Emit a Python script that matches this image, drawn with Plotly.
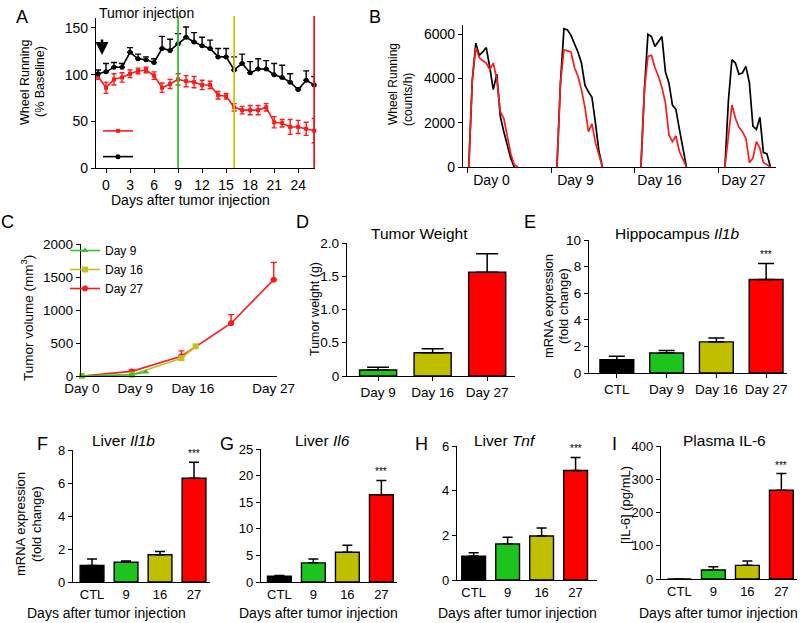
import plotly.graph_objects as go

W, H = 800, 623
FONT = "Liberation Sans, Arial, sans-serif"

# ---------------- Panel A : wheel running (% baseline) ----------------
a_days = list(range(-1, 27))
a_ctrl = [101, 103, 108, 108, 124, 117, 116, 113, 128, 126, 133, 140, 135, 131,
          128, 119, 119, 105, 112, 102, 106, 106, 100, 97, 92, 84, 94, 89]
a_ctrl_err = [4, 9, 5, 4, 5, 5, 3, 4, 13, 12, 11, 11, 10, 9,
              9, 9, 9, 14, 10, 12, 11, 9, 12, 13, 9, 2, 10, 9]
a_tumor = [98, 86, 95, 97, 101, 104, 105, 99, 86, 90, 95, 93, 92, 89,
           89, 78, 77, 65, 62, 62, 62, 65, 49, 48, 44, 44, 42, 40]
a_tumor_err = [3, 6, 6, 5, 4, 3, 3, 4, 5, 5, 6, 6, 6, 5,
               4, 4, 3, 4, 4, 5, 5, 4, 6, 4, 8, 7, 7, 13]
a_xticks = [0, 3, 6, 9, 12, 15, 18, 21, 24]
a_yticks = [0, 50, 100, 150]
a_sample_days = [9, 16, 26]
a_injection_day = -0.5

# ---------------- Panel B : hourly wheel running ----------------
b_labels = ["Day 0", "Day 9", "Day 16", "Day 27"]
b_ctrl = [
    [0, 3900, 5600, 5050, 5200, 5400, 4500, 3500, 4200, 2300, 1600, 1000, 400, 0],
    [0, 3800, 6250, 6200, 5950, 5600, 5200, 4700, 3700, 3400, 3150, 2000, 700, 0],
    [0, 3500, 6000, 5900, 5450, 5700, 5900, 4300, 3800, 2800, 2600, 1700, 900, 0],
    [0, 3000, 4850, 4700, 4200, 4250, 4550, 3800, 1850, 1700, 2250, 650, 600, 0],
]
b_tumor = [
    [0, 3900, 5400, 4950, 4800, 4700, 4400, 4700, 4000, 2500, 2200, 1400, 600, 100, 0],
    [0, 3800, 5300, 5250, 5200, 4500, 4100, 3500, 2700, 1600, 1950, 1100, 600, 0],
    [0, 3500, 5000, 5050, 4500, 4100, 3600, 2900, 1450, 1150, 1400, 700, 350, 0],
    [0, 1400, 2800, 2200, 1800, 1600, 1300, 200, 400, 1150, 850, 200, 100, 0],
]
b_yticks = [0, 2000, 4000, 6000]

# ---------------- Panel C : tumor volume ----------------
c_days_9 = [0, 7, 9]
c_vol_9 = [0, 20, 60]
c_days_16 = [0, 7, 14, 16]
c_vol_16 = [0, 20, 270, 450]
c_days_27 = [0, 7, 14, 21, 27]
c_vol_27 = [0, 70, 300, 800, 1460]
c_vol_27_err = [0, 20, 80, 130, 260]
c_tick_labels = ["Day 0", "Day 9", "Day 16", "Day 27"]
c_tick_pos = [0, 7.5, 15.6, 27]
c_yticks = [0, 500, 1000, 1500, 2000]

# ---------------- Panel D : tumor weight ----------------
d_cats = ["Day 9", "Day 16", "Day 27"]
d_vals = [0.09, 0.35, 1.56]
d_err = [0.04, 0.06, 0.28]
d_yticks = [0, 0.5, 1.0, 1.5, 2.0]
d_ytick_text = ["0", "0.5", "1.0", "1.5", "2.0"]

# ---------------- Panel E : hippocampus Il1b ----------------
e_cats = ["CTL", "Day 9", "Day 16", "Day 27"]
e_vals = [1.0, 1.5, 2.34, 7.03]
e_err = [0.26, 0.2, 0.3, 1.21]
e_yticks = [0, 2, 4, 6, 8, 10]

# ---------------- Panels F-I ----------------
fi_cats = ["CTL", "9", "16", "27"]
f_vals = [1.0, 1.2, 1.65, 6.29]
f_err = [0.39, 0.07, 0.2, 0.97]
f_yticks = [0, 2, 4, 6, 8]
g_vals = [1.07, 3.6, 5.6, 16.4]
g_err = [0.13, 0.7, 1.3, 2.7]
g_yticks = [0, 5, 10, 15, 20, 25]
h_vals = [1.07, 1.61, 1.97, 4.9]
h_err = [0.15, 0.3, 0.36, 0.59]
h_yticks = [0, 2, 4, 6]
i_vals = [0, 27, 41, 267]
i_err = [0, 10, 13, 50]
i_yticks = [0, 100, 200, 300, 400]

BAR_COLORS4 = ["#000000", "#1ec41e", "#bfbf00", "#ff0000"]
BAR_COLORS3 = ["#1ec41e", "#bfbf00", "#ff0000"]


def xd(p0, p1):
    return [p0 / W, p1 / W]


def yd(top, bottom):
    return [1 - bottom / H, 1 - top / H]


def px(xp):
    return xp / W


def py(yp):
    return 1 - yp / H


base_axis = dict(showline=True, linecolor="black", linewidth=1.3, showgrid=False,
                 zeroline=False, ticks="outside", ticklen=4, tickwidth=1.3,
                 tickcolor="black", automargin=False,
                 tickfont=dict(size=13, color="black", family=FONT))

fig = go.Figure()
ann = []

# ===== Panel A =====
fig.add_trace(go.Scatter(
    x=a_days, y=a_tumor, mode="lines+markers", name=" ",
    line=dict(color="#ff1a1a", width=1.6), marker=dict(symbol="square", size=4, color="#ff1a1a"),
    error_y=dict(type="data", array=a_tumor_err, color="#ff1a1a", thickness=1.4, width=2.5),
    xaxis="x", yaxis="y", legend="legend2", cliponaxis=False))
fig.add_trace(go.Scatter(
    x=a_days, y=a_ctrl, mode="lines+markers", name=" ",
    line=dict(color="black", width=1.6), marker=dict(symbol="circle", size=5, color="black"),
    error_y=dict(type="data", array=a_ctrl_err, arrayminus=[0] * len(a_ctrl_err), symmetric=False,
                 color="black", thickness=1.4, width=3),
    xaxis="x", yaxis="y", legend="legend2", cliponaxis=False))

sample_colors = ["#2fc42f", "#c8c800", "#e8161b"]
shapes = []
for d, c in zip(a_sample_days, sample_colors):
    shapes.append(dict(type="line", xref="x", yref="paper", x0=d, x1=d,
                       y0=py(168), y1=py(16), line=dict(color=c, width=1.8), layer="above"))

ann.append(dict(x=a_injection_day, y=121, xref="x", yref="y", ax=0, ay=-17, axref="pixel", ayref="pixel",
                showarrow=True, arrowhead=2, arrowsize=1, arrowwidth=2.6, arrowcolor="black", text=""))
ann.append(dict(x=px(97), y=py(13), xref="paper", yref="paper", xanchor="left", yanchor="middle",
                text="Tumor injection", showarrow=False, font=dict(size=14, color="black")))

# ===== Panel B =====
BLOCK = 24
b_offsets = [0.5, 1.7, 1.7, 1.7]
for k in range(4):
    xs_c = [k * BLOCK + b_offsets[k] + i for i in range(len(b_ctrl[k]))]
    xs_t = [k * BLOCK + b_offsets[k] + i for i in range(len(b_tumor[k]))]
    fig.add_trace(go.Scatter(x=xs_c, y=b_ctrl[k], mode="lines", line=dict(color="black", width=1.7),
                             xaxis="x2", yaxis="y2", showlegend=False, cliponaxis=False))
    fig.add_trace(go.Scatter(x=xs_t, y=b_tumor[k], mode="lines", line=dict(color="#ff1a1a", width=1.7),
                             xaxis="x2", yaxis="y2", showlegend=False, cliponaxis=False))
b_label_pos = [k * BLOCK + 7 for k in range(4)]
b_bounds = [k * BLOCK for k in range(4)]

# ===== Panel C =====
fig.add_trace(go.Scatter(x=c_days_27, y=c_vol_27, mode="lines+markers", name="Day 27",
                         line=dict(color="#ff1a1a", width=1.6), marker=dict(symbol="circle", size=6, color="#ff1a1a"),
                         error_y=dict(type="data", array=c_vol_27_err, arrayminus=[0] * 5, symmetric=False,
                                      color="#ff1a1a", thickness=1.4, width=3),
                         xaxis="x3", yaxis="y3", legend="legend", cliponaxis=False, legendrank=3))
fig.add_trace(go.Scatter(x=c_days_16, y=c_vol_16, mode="lines+markers", name="Day 16",
                         line=dict(color="#c0c020", width=1.6), marker=dict(symbol="square", size=6, color="#c0c020"),
                         xaxis="x3", yaxis="y3", legend="legend", cliponaxis=False, legendrank=2))
fig.add_trace(go.Scatter(x=c_days_9, y=c_vol_9, mode="lines+markers", name="Day 9",
                         line=dict(color="#2fc42f", width=1.6), marker=dict(symbol="triangle-up", size=6, color="#2fc42f"),
                         xaxis="x3", yaxis="y3", legend="legend", cliponaxis=False, legendrank=1))

# ===== Bar panels =====
def add_bar(cats, vals, errs, colors, xa, ya, cap, width):
    fig.add_trace(go.Bar(x=cats, y=vals, marker=dict(color=colors, line=dict(color="black", width=1.4)),
                         width=width,
                         error_y=dict(type="data", array=errs, arrayminus=[0] * len(errs), symmetric=False,
                                      color="black", thickness=1.5, width=cap),
                         xaxis=xa, yaxis=ya, showlegend=False))


add_bar(d_cats, d_vals, d_err, BAR_COLORS3, "x4", "y4", 11, 0.68)
add_bar(e_cats, e_vals, e_err, BAR_COLORS4, "x5", "y5", 8, 0.68)
add_bar(fi_cats, f_vals, f_err, BAR_COLORS4, "x6", "y6", 5, 0.7)
add_bar(fi_cats, g_vals, g_err, BAR_COLORS4, "x7", "y7", 5, 0.7)
add_bar(fi_cats, h_vals, h_err, BAR_COLORS4, "x8", "y8", 5, 0.7)
add_bar(fi_cats, i_vals, i_err, BAR_COLORS4, "x9", "y9", 5, 0.7)

# significance stars (on the last category, by index)
for xa, ya, cats, vals, errs in [("x5", "y5", e_cats, e_vals, e_err), ("x6", "y6", fi_cats, f_vals, f_err),
                                 ("x7", "y7", fi_cats, g_vals, g_err), ("x8", "y8", fi_cats, h_vals, h_err),
                                 ("x9", "y9", fi_cats, i_vals, i_err)]:
    ann.append(dict(x=len(cats) - 1, y=vals[-1] + errs[-1], xref=xa, yref=ya, text="***", showarrow=False,
                    yanchor="bottom", yshift=1, font=dict(size=10, color="black")))

# ===== Layout axes =====
layout = dict(
    template="none",
    width=W, height=H, margin=dict(l=0, r=0, t=0, b=0, pad=0, autoexpand=False),
    paper_bgcolor="white", plot_bgcolor="white",
    font=dict(family=FONT, color="black", size=13),
    showlegend=True,
    shapes=shapes,
)

layout["xaxis"] = dict(base_axis, domain=xd(96, 315), range=[-1.25, 26.1], tickvals=a_xticks,
                       anchor="y", tickfont=dict(size=14, family=FONT, color="black"))
layout["yaxis"] = dict(base_axis, domain=yd(18, 168), range=[0, 160.7], tickvals=a_yticks,
                       anchor="x", tickfont=dict(size=14, family=FONT, color="black"))

layout["xaxis2"] = dict(base_axis, domain=xd(463, 776), range=[-1.15, 88.3], tickvals=b_label_pos,
                        ticktext=b_labels, ticks="", anchor="y2",
                        tickfont=dict(size=14, family=FONT, color="black"),
                        minor=dict(tickmode="array", tickvals=b_bounds, ticks="outside", ticklen=5,
                                   tickwidth=1.3, tickcolor="black", showgrid=False))
layout["yaxis2"] = dict(base_axis, domain=yd(25, 167), range=[0, 6420], tickvals=b_yticks,
                        tickformat="d", anchor="x2", tickfont=dict(size=14, family=FONT, color="black"))

layout["xaxis3"] = dict(base_axis, domain=xd(81, 277), range=[-0.14, 27.46], tickvals=c_tick_pos,
                        ticktext=c_tick_labels, ticks="", anchor="y3",
                        tickfont=dict(size=13.5, family=FONT, color="black"))
layout["yaxis3"] = dict(base_axis, domain=yd(244, 376), range=[0, 2000], tickvals=c_yticks,
                        tickformat="d", anchor="x3", tickfont=dict(size=13.5, family=FONT, color="black"))

layout["xaxis4"] = dict(base_axis, domain=xd(347, 515), range=[-0.57, 2.51], type="category",
                        anchor="y4", tickfont=dict(size=13.5, family=FONT, color="black"))
layout["yaxis4"] = dict(base_axis, domain=yd(243, 376), range=[0, 2.0], tickvals=d_yticks,
                        ticktext=d_ytick_text, anchor="x4", tickfont=dict(size=13.5, family=FONT, color="black"))

layout["xaxis5"] = dict(base_axis, domain=xd(589, 787), range=[-0.56, 3.42], type="category",
                        anchor="y5", tickfont=dict(size=13.5, family=FONT, color="black"))
layout["yaxis5"] = dict(base_axis, domain=yd(240, 373), range=[0, 10], tickvals=e_yticks,
                        anchor="x5", tickfont=dict(size=13.5, family=FONT, color="black"))

bottom = [("6", (73, 210), (450, 582), (-0.56, 3.47), (0, 8), f_yticks),
          ("7", (261, 397), (449, 582), (-0.54, 3.46), (0, 25), g_yticks),
          ("8", (457, 597), (446, 580), (-0.49, 3.63), (0, 6), h_yticks),
          ("9", (661, 797), (446, 579), (-0.54, 3.46), (0, 400), i_yticks)]
for n, xdom, ydom, xr, yr, yt in bottom:
    layout["xaxis" + n] = dict(base_axis, domain=xd(*xdom), range=list(xr), type="category", ticks="",
                               anchor="y" + n, tickfont=dict(size=13, family=FONT, color="black"))
    layout["yaxis" + n] = dict(base_axis, domain=yd(*ydom), range=list(yr), tickvals=yt,
                               anchor="x" + n, tickfont=dict(size=13, family=FONT, color="black"))

layout["legend"] = dict(x=px(65), y=py(236), xanchor="left", yanchor="top", bgcolor="rgba(0,0,0,0)",
                        font=dict(size=12, color="black"), tracegroupgap=0, itemwidth=30,
                        traceorder="normal", borderwidth=0)
layout["legend2"] = dict(x=px(98), y=py(113), xanchor="left", yanchor="top", bgcolor="rgba(0,0,0,0)",
                         font=dict(size=17.5, color="black"), tracegroupgap=0, itemwidth=30, borderwidth=0)

# ===== Text annotations =====
def txt(x, y, text, size, angle=0, anchor="center"):
    ann.append(dict(x=px(x), y=py(y), xref="paper", yref="paper", text=text, showarrow=False,
                    textangle=angle, xanchor=anchor, yanchor="middle",
                    font=dict(size=size, color="black", family=FONT)))


# panel letters
for letter, x, y in [("A", 22, 17), ("B", 375, 17), ("C", 7, 222), ("D", 302, 222), ("E", 530, 222),
                     ("F", 42, 444), ("G", 227, 444), ("H", 421, 444), ("I", 614, 444)]:
    txt(x, y, letter, 18)

# panel titles
txt(419, 233, "Tumor Weight", 15.5)
txt(677, 233, "Hippocampus <i>Il1b</i>", 15.5)
txt(123, 440, "Liver <i>Il1b</i>", 15.5)
txt(322, 440, "Liver <i>Il6</i>", 15.5)
txt(505, 440, "Liver <i>Tnf</i>", 15.5)
txt(724, 440, "Plasma IL-6", 15.5)

# axis titles
txt(25, 82, "Wheel Running", 12.5, -90)
txt(40, 82, "(% Baseline)", 12.5, -90)
txt(190, 200, "Days after tumor injection", 14)
txt(393, 84, "Wheel Running", 12, -90)
txt(408, 100, "(counts/h)", 12, -90)
txt(27, 318, "Tumor volume (mm<sup>3</sup>)", 13.5, -90)
txt(315, 309, "Tumor weight (g)", 12.5, -90)
txt(548, 306, "mRNA expression", 13, -90)
txt(563, 306, "(fold change)", 13, -90)
txt(20, 524, "mRNA expression", 13, -90)
txt(36, 524, "(fold change)", 13, -90)
txt(625, 505, "[IL-6] (pg/mL)", 13, -90)
for cx in [106, 318, 517, 718]:
    txt(cx, 613, "Days after tumor injection", 14)

layout["annotations"] = ann
fig.update_layout(**layout)
fig.write_html("out.html", config={"displayModeBar": False},
               post_script="document.body.style.margin='0';document.body.style.overflow='hidden';")
